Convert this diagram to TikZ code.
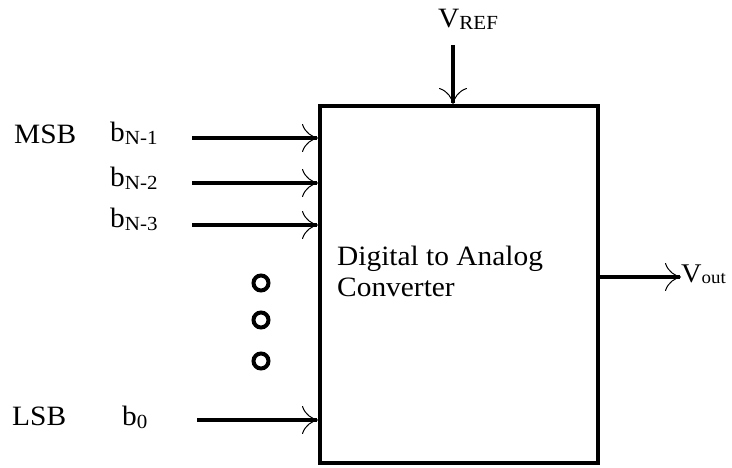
\documentclass[tikz,border=0pt]{standalone}
\usepackage{fontspec}
\setmainfont{Liberation Serif}[FakeStretch=1.05]
\usetikzlibrary{arrows.meta}
\newcommand\lowsub[2][3pt]{\raisebox{-#1}{\fontsize{20}{20}\selectfont #2}}
\tikzset{
  sig/.style={line width=4pt, -{To[line width=1pt, length=16pt, width=28pt]}},
  lbl/.style={inner sep=0pt, anchor=base west, font=\fontsize{28}{32}\selectfont},
  dot/.style={circle, draw, line width=4pt, minimum size=15pt, inner sep=0pt},
}
\begin{document}
\begin{tikzpicture}[x=1pt,y=-1pt]
\useasboundingbox (0,0) rectangle (732,468);
% converter box
\node[draw, line width=4pt, minimum width=278pt, minimum height=357pt, inner sep=0pt] (dac) at (459,284.5) {};
\node[lbl, align=left] (dactext) at (337,297) {Digital to Analog\\Converter};
% reference
\node[lbl] (vref) at (438,28) {V\lowsub[2pt]{REF}};
\coordinate (vrefs) at (453,45);
\draw[sig] (vrefs) -- (vrefs |- dac.north);
% inputs
\node[lbl] (msb) at (14,144) {MSB};
\node[lbl] (bn1) at (110,142) {b\lowsub{N-1}};
\node[lbl] (bn2) at (110,187) {b\lowsub{N-2}};
\node[lbl] (bn3) at (110,228) {b\lowsub{N-3}};
\node[lbl] (lsb) at (12,425) {LSB};
\node[lbl] (b0) at (122,425) {b\lowsub{0}};
\coordinate (s1) at (192,138);
\coordinate (s2) at (192,183);
\coordinate (s3) at (192,225);
\coordinate (s0) at (197,420);
\draw[sig] (s1) -- (s1 -| dac.west);
\draw[sig] (s2) -- (s2 -| dac.west);
\draw[sig] (s3) -- (s3 -| dac.west);
\draw[sig] (s0) -- (s0 -| dac.west);
% dots
\node[dot] (d1) at (261,283) {};
\node[dot] (d2) at (261,320) {};
\node[dot] (d3) at (261,361) {};
% output
\node[inner sep=0pt, anchor=base west, font=\fontsize{27}{30}\selectfont] (vout) at (681,283) {V\raisebox{-1pt}{\fontsize{18}{18}\selectfont out}};
\coordinate (o) at (dac.east |- 0,277);
\draw[sig] (o) -- (vout.west |- o);
\end{tikzpicture}
\end{document}
